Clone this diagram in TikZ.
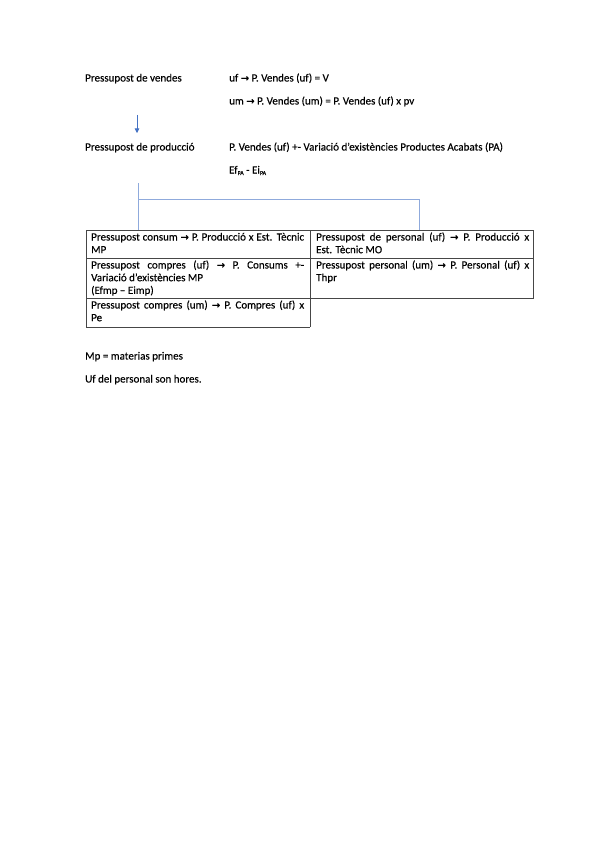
\documentclass[tikz,border=0pt]{standalone}
\usepackage{fontspec}
\setmainfont{Carlito}[FakeBold=0.35]
\newfontfamily\arrfont{DejaVu Sans}[FakeBold=0.2]
\newcommand{\rar}{{\arrfont\fontsize{10}{10}\selectfont →}}
\usetikzlibrary{arrows.meta}
\definecolor{arrowblue}{RGB}{68,114,196}
\definecolor{lineblue}{RGB}{143,170,220}
\definecolor{tablegray}{RGB}{70,70,70}
\begin{document}
\begin{tikzpicture}[x=1pt,y=-1pt,
  txt/.style={anchor=base west, inner sep=0pt, font=\fontsize{11}{12.7}\selectfont},
  cell/.style={txt, text width=213pt, align=justify},
  conn/.style={draw=lineblue, line width=1pt},
  arr/.style={draw=arrowblue, line width=0.6pt, -{Triangle[width=4.5pt,length=4.5pt]}},
  grid/.style={draw=tablegray, line width=0.6pt}]
\fill[white] (0,0) rectangle (599,848);
\useasboundingbox (0,0) rectangle (599,848);

% top texts
\node[txt] (vendes) at (85,81.5) {Pressupost de vendes};
\node[txt] (uf) at (229,81.5) {uf \rar{} P. Vendes (uf) = V};
\node[txt] (um) at (229,104.5) {um \rar{} P. Vendes (um) = P. Vendes (uf) x pv};
\node[txt] (produccio) at (85,150.5) {Pressupost de producció};
\node[txt] (pvendes) at (229,150.5) {P. Vendes (uf) +- Variació d’existències Productes Acabats (PA)};
\node[txt] (efei) at (229,173.5) {Ef{\fontsize{6}{6}\selectfont\raisebox{-1.5pt}{PA}} - Ei{\fontsize{6}{6}\selectfont\raisebox{-1.5pt}{PA}}};

% arrow
\coordinate (a1) at (137,115);
\coordinate (a2) at (137,133);
\draw[arr] (a1) -- (a2);

% bracket connector
\coordinate (b0) at (138,183);
\coordinate (b1) at (138,229.5);
\coordinate (b2) at (138,199);
\coordinate (b3) at (419,199);
\coordinate (b4) at (419,229.5);
\draw[conn] (b0) -- (b1);
\draw[conn] (b2) -- (b3) -- (b4);

% table lines
\draw[grid] (86,230) rectangle (533,298);
\draw[grid] (86,258) -- (533,258);
\draw[grid] (310,230) -- (310,327);
\draw[grid] (86,298) -- (86,327) -- (310,327);

% table cells
\node[cell] (c11) at (91,240.5) {Pressupost consum \rar{} P. Producció x Est. Tècnic\linebreak MP};
\node[cell] (c12) at (316,240.5) {Pressupost de personal (uf) \rar{} P. Producció x\linebreak Est. Tècnic MO};
\node[cell] (c21) at (91,268.5) {Pressupost compres (uf) \rar{} P. Consums +-\linebreak Variació d’existències MP\\(Efmp – Eimp)};
\node[cell] (c22) at (316,268.5) {Pressupost personal (um) \rar{} P. Personal (uf) x\linebreak Thpr};
\node[cell] (c31) at (91,308.5) {Pressupost compres (um) \rar{} P. Compres (uf) x\linebreak Pe};

% notes
\node[txt] (mp) at (85,359.5) {Mp = materias primes};
\node[txt] (ufp) at (85,382.5) {Uf del personal son hores.};
\end{tikzpicture}
\end{document}
